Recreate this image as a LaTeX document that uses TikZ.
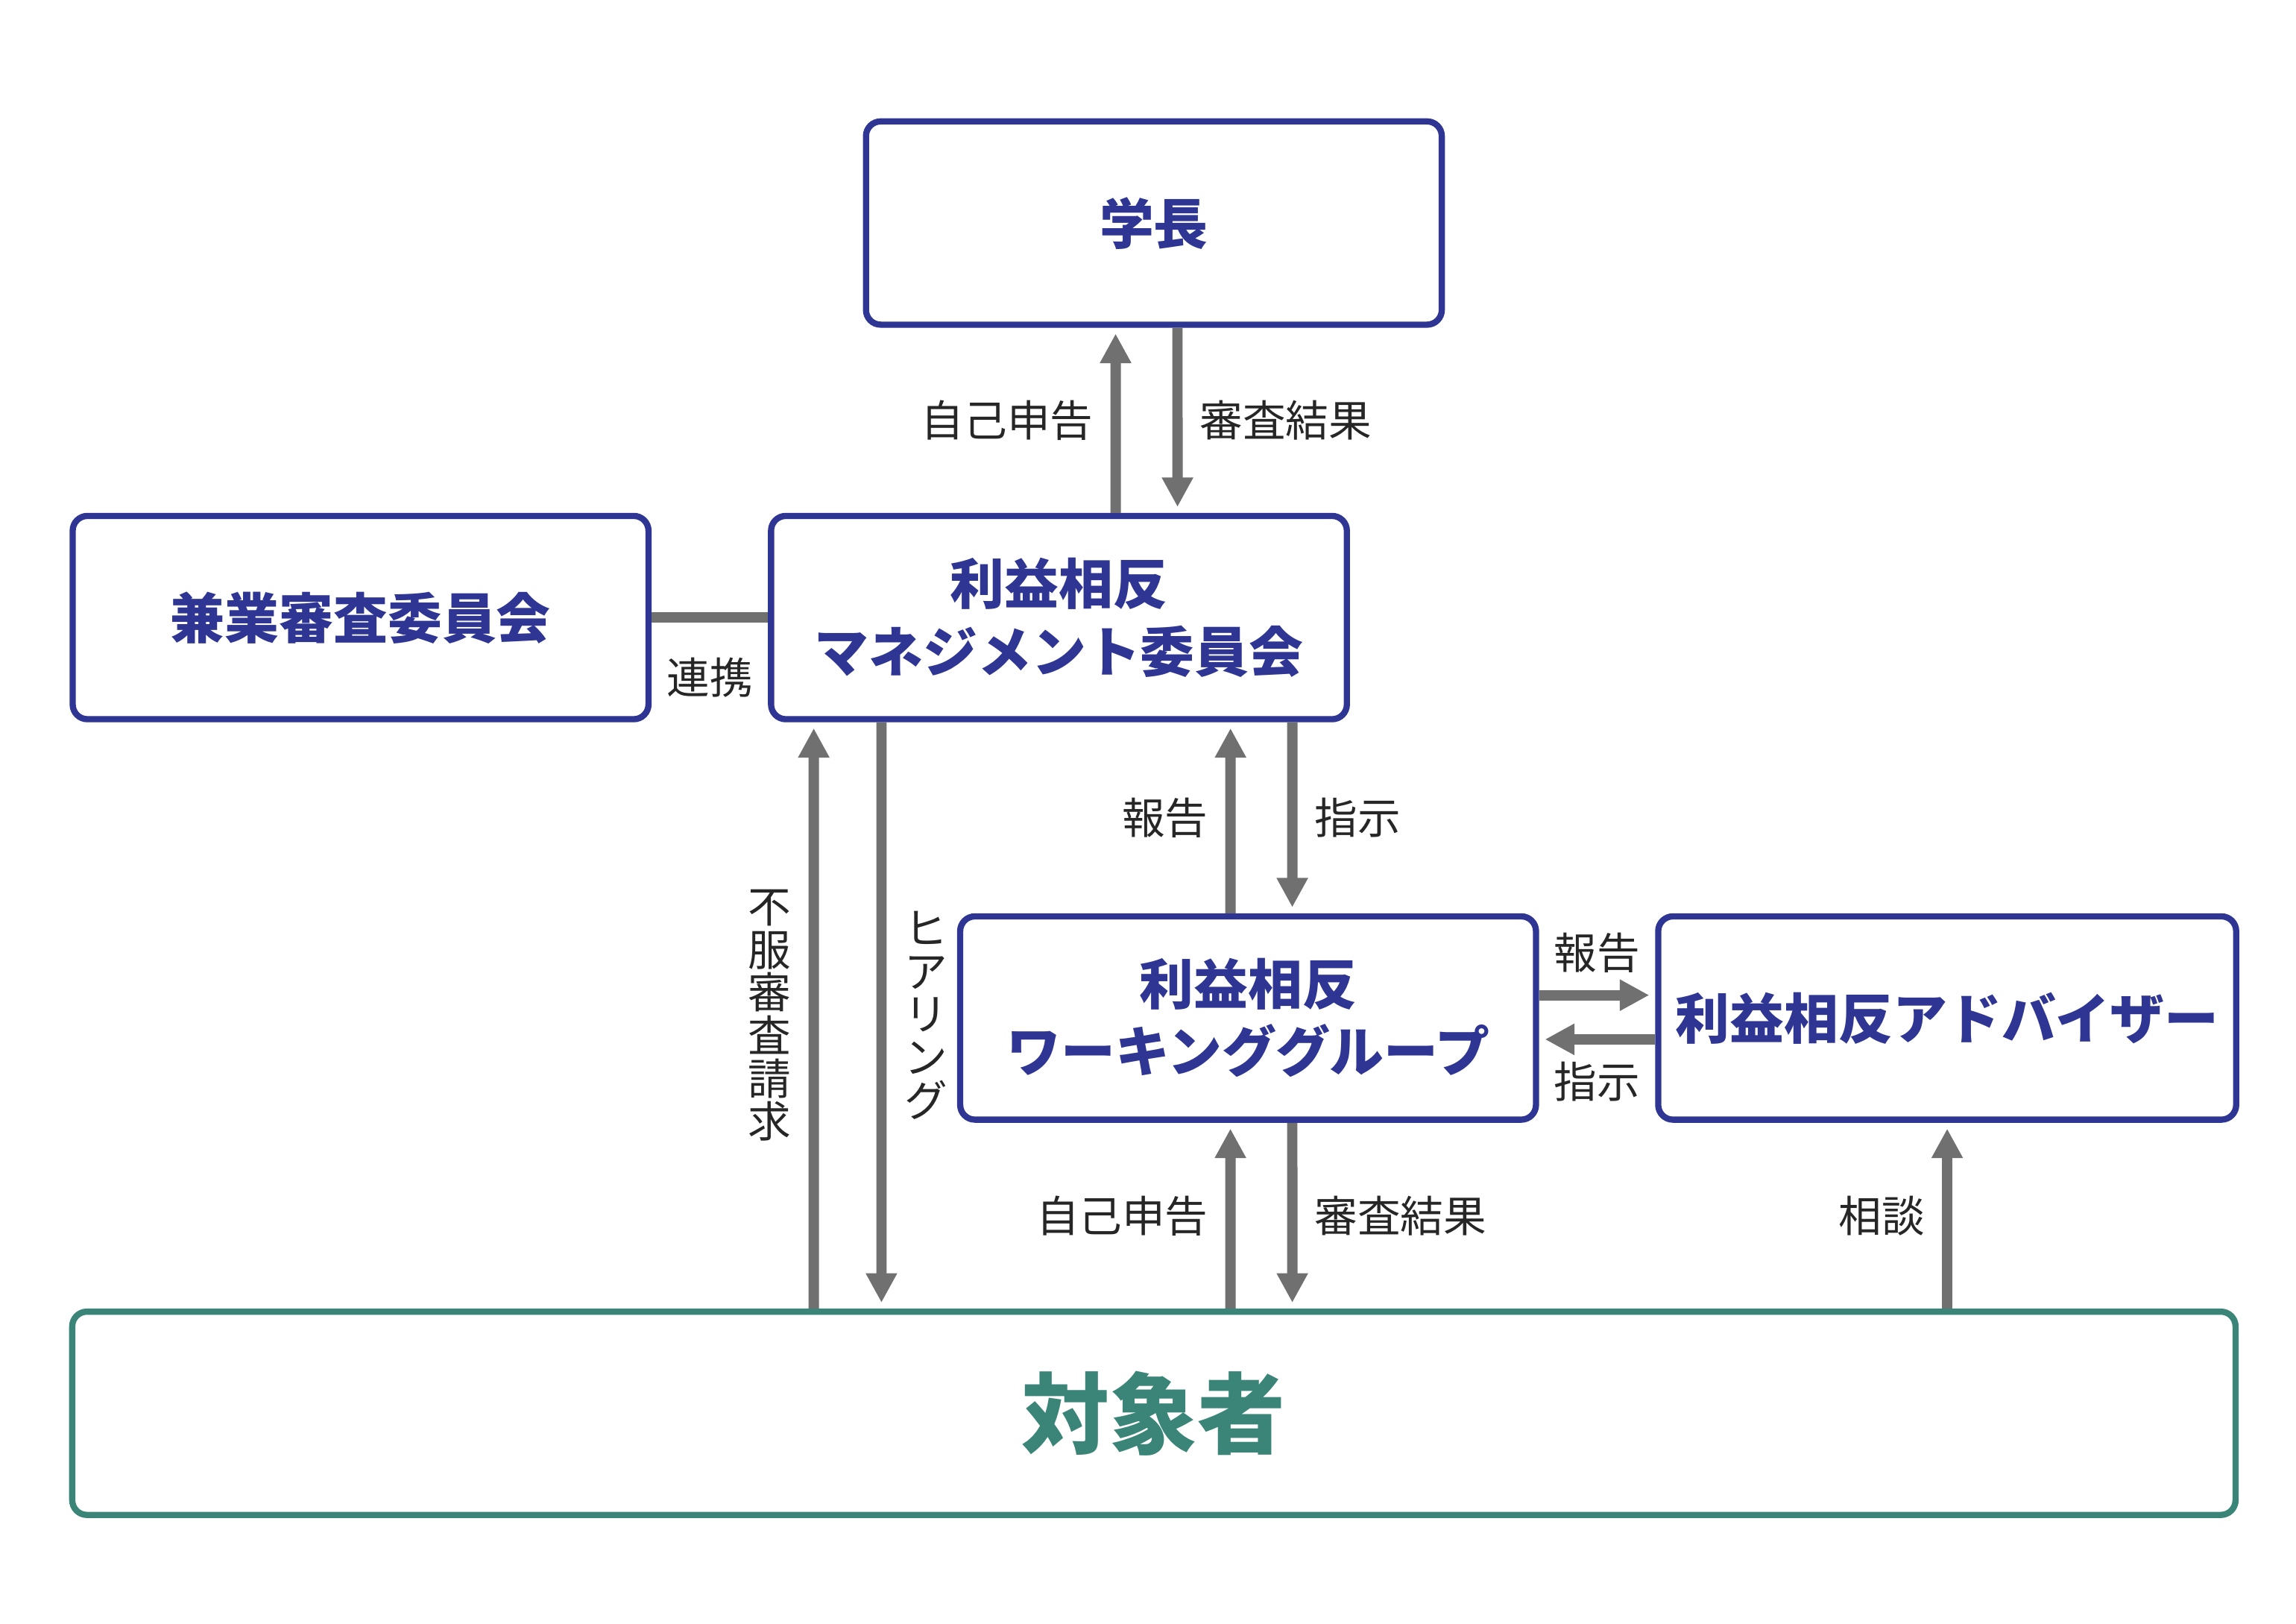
\documentclass[tikz,border=0pt]{standalone}
\usepackage{fontspec}
\setmainfont{Noto Sans CJK JP}
\usepackage{tikz}
\usetikzlibrary{arrows.meta, positioning, calc}
\definecolor{boxblue}{HTML}{2E3592}
\definecolor{boxteal}{HTML}{3A8578}
\definecolor{arrgray}{HTML}{707070}
\begin{document}
\begin{tikzpicture}[x=0.01cm, y=-0.01cm,
    block/.style={rectangle, draw=boxblue, line width=1.2pt, rounded corners=0.1cm, minimum width=3.91cm, minimum height=1.38cm, align=center, text=boxblue, font=\fontsize{10.5}{13}\selectfont\bfseries},
    line/.style={draw=arrgray, line width=2pt, -{Triangle[length=0.2cm, width=0.2cm]}, shorten >=0.04cm},
    lbl/.style={font=\fontsize{8.3}{9}\selectfont, text=black!85},
    vlbl/.style={lbl, align=center, text width=0.3cm, font=\fontsize{8.3}{8.3}\selectfont}]

    \useasboundingbox (0,0) rectangle (1560,1103);

    % Nodes
    \node [block] (head) at (784,151.5) {学長};
    \node [block] (dual) at (245,419.5) {兼業審査委員会};
    \node [block] (mgmt) at (719.5,419.5) {利益相反\\マネジメント委員会};
    \node [block] (wg) at (848,691.5) {利益相反\\ワーキンググループ};
    \node [block] (adv) at (1323,691.5) {利益相反アドバイザー};
    \node [block, draw=boxteal, text=boxteal, minimum width=14.69cm, font=\fontsize{17}{20}\selectfont\bfseries] (target) at (784,960) {対象者};

    % President <-> committee
    \path [line] ([xshift=0.385cm]mgmt.north) -- node [lbl, left] {自己申告} ([xshift=-0.26cm]head.south);
    \path [line] ([xshift=0.16cm]head.south) -- node [lbl, right] {審査結果} ([xshift=0.805cm]mgmt.north);

    % Cooperation
    \draw [arrgray, line width=2pt] (dual) -- node [lbl, below=0.12cm] {連携} (mgmt);

    % Committee <-> target
    \path [line] ([xshift=-2.31cm]target.north) -- node [vlbl, left] {不\\服\\審\\査\\請\\求} ([xshift=-1.665cm]mgmt.south);
    \path [line] ([xshift=-1.205cm]mgmt.south) -- node [vlbl, right] {ヒ\\ア\\リ\\ン\\グ} ([xshift=-1.85cm]target.north);

    % Committee <-> working group
    \path [line] ([xshift=-0.12cm]wg.north) -- node [lbl, left] {報告} ([xshift=1.165cm]mgmt.south);
    \path [line] ([xshift=1.585cm]mgmt.south) -- node [lbl, right] {指示} ([xshift=0.3cm]wg.north);

    % Working group <-> adviser
    \path [line] ([yshift=0.155cm]wg.east) -- node [lbl, above] {報告} ([yshift=0.155cm]adv.west);
    \path [line] ([yshift=-0.145cm]adv.west) -- node [lbl, below] {指示} ([yshift=-0.145cm]wg.east);

    % Working group <-> target
    \path [line] ([xshift=0.52cm]target.north) -- node [lbl, left] {自己申告} ([xshift=-0.12cm]wg.south);
    \path [line] ([xshift=0.3cm]wg.south) -- node [lbl, right] {審査結果} ([xshift=0.94cm]target.north);

    % Consultation
    \path [line] (target.north -| adv.south) -- node [lbl, left] {相談} (adv.south);

\end{tikzpicture}
\end{document}
